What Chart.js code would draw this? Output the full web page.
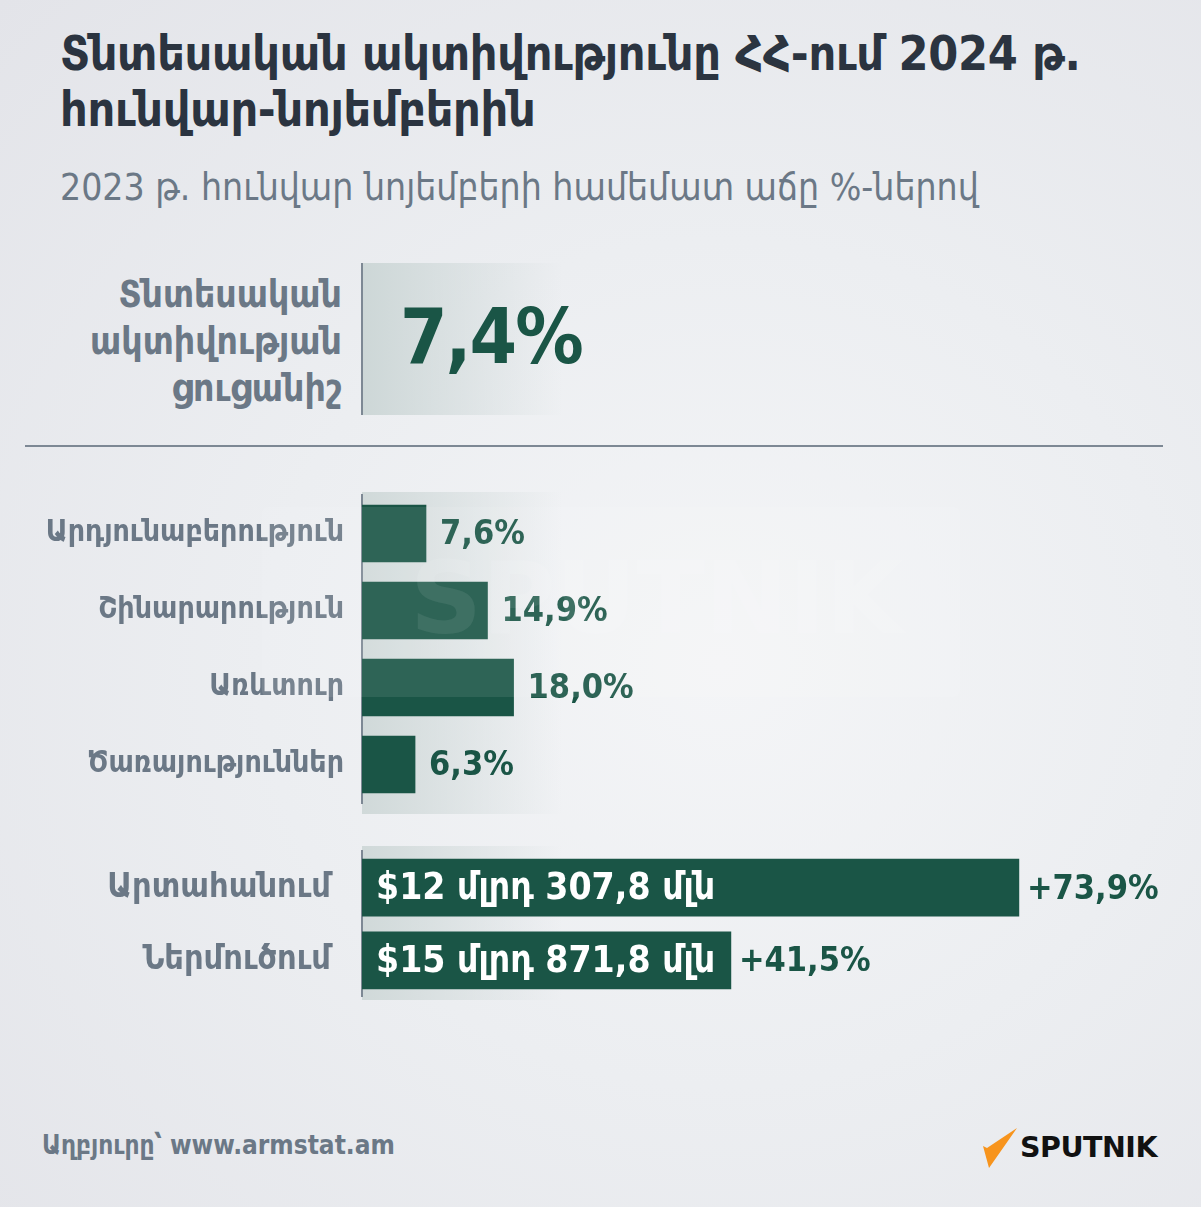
<!DOCTYPE html>
<html lang="hy">
<head>
<meta charset="UTF-8">
<title>Տնտեսական ակտիվությունը ՀՀ-ում 2024 թ.</title>
<script src="https://cdn.jsdelivr.net/npm/chart.js"></script>
<style>
  html, body { margin: 0; padding: 0; }
  body {
    width: 1201px; height: 1207px; position: relative; overflow: hidden;
    font-family: "DejaVu Sans Condensed", "DejaVu Sans", sans-serif;
    background: radial-gradient(ellipse at 60% 55%, #f4f5f7 0%, #eceef1 45%, #e3e4e9 100%);
  }
  .abs { position: absolute; }
  h1 { position: absolute; left: 60px; top: 25px; margin: 0; font-size: 48px; line-height: 56px; color: #2b3440; font-weight: bold; letter-spacing: -0.3px; }
  .sub { left: 60px; top: 166px; font-size: 37px; color: #6b7886; }
  .kpi-label { right: 859px; top: 271px; text-align: right; font-size: 37px; line-height: 47px; font-weight: bold; color: #6b7886; }
  .kpi-box { left: 361px; top: 263px; width: 200px; height: 152px; border-left: 2px solid #7d8894;
    background: linear-gradient(to right, #cdd7d7, rgba(220,226,226,0)); }
  .kpi-val { left: 400px; top: 292px; font-size: 76px; font-weight: bold; color: #1a5546; letter-spacing: -2px; }
  .rule { left: 25px; top: 445px; width: 1138px; height: 2px; background: #7d8894; }
  .band { background: linear-gradient(to right, #d0d9d9, rgba(225,230,230,0)); width: 200px; }
  .wm { left: 262px; top: 507px; width: 698px; height: 190px; border-radius: 6px; background: rgba(255,255,255,0.09);
    pointer-events: none; overflow: hidden; }
  .wm span { position: absolute; left: 148px; top: 42px; line-height: 1; font-family: "DejaVu Sans"; font-weight: bold; font-size: 100px; color: rgba(255,255,255,0.08); }
  .src { left: 42px; top: 1130px; font-size: 26px; font-weight: bold; color: #6b7886; }
  .logo { left: 983px; top: 1128px; }
  .logo b { position: absolute; left: 37px; top: 3px; font-family: "DejaVu Sans"; font-size: 28.5px; color: #111; letter-spacing: -0.5px; }
</style>
</head>
<body>
<h1>Տնտեսական ակտիվությունը ՀՀ-ում 2024 թ.<br>հունվար-նոյեմբերին</h1>
<div class="abs sub">2023 թ. հունվար նոյեմբերի համեմատ աճը %-ներով</div>

<div class="abs kpi-label">Տնտեսական<br>ակտիվության<br>ցուցանիշ</div>
<div class="abs kpi-box"></div>
<div class="abs kpi-val" id="kpi"></div>
<div class="abs rule"></div>

<div class="abs band" style="left:362px; top:492px; height:322px;"></div>
<div class="abs band" style="left:362px; top:846px; height:154px;"></div>

<canvas id="sectors" class="abs" style="left:0; top:467px;" width="1201" height="364"></canvas>
<canvas id="trade" class="abs" style="left:0; top:808px;" width="1201" height="232"></canvas>

<div class="abs wm"><span>SPUTNIK</span></div>

<div class="abs src">Աղբյուրը՝ www.armstat.am</div>
<div class="abs logo">
  <svg width="36" height="40" viewBox="0 0 36 40"><polygon points="34,0 4,20 0,18 6,40" fill="#f7941d"/></svg>
  <b>SPUTNIK</b>
</div>

<script>
  const activityIndex = 7.4;
  const sectorLabels = ['Արդյունաբերություն', 'Շինարարություն', 'Առևտուր', 'Ծառայություններ'];
  const sectorGrowth = [7.6, 14.9, 18.0, 6.3];
  const tradeLabels = ['Արտահանում', 'Ներմուծում'];
  const tradeGrowth = [73.9, 41.5];
  const tradeAmounts = ['$12 մլրդ 307,8 մլն', '$15 մլրդ 871,8 մլն'];

  const fmt = v => v.toFixed(1).replace('.', ',') + '%';
  document.getElementById('kpi').textContent = fmt(activityIndex);

  const FONT = '"DejaVu Sans Condensed", "DejaVu Sans", sans-serif';
  const GREEN = '#1a5546';

  // draws value text next to (and optionally inside) each bar
  const valueLabels = {
    id: 'valueLabels',
    afterDatasetsDraw(chart, args, opts) {
      const ctx = chart.ctx;
      const meta = chart.getDatasetMeta(0);
      const vals = chart.data.datasets[0].data;
      ctx.save();
      ctx.textBaseline = 'middle';
      ctx.textAlign = 'left';
      meta.data.forEach((bar, i) => {
        if (opts.inside) {
          ctx.font = 'bold 37px ' + FONT;
          ctx.fillStyle = '#ffffff';
          ctx.fillText(opts.inside[i], bar.base + 14, bar.y + 2);
        }
        ctx.font = opts.font;
        ctx.fillStyle = GREEN;
        ctx.fillText(opts.prefix + fmt(vals[i]), bar.x + opts.gap, bar.y + 2);
      });
      ctx.restore();
    }
  };

  function yAxis(size, pad) {
    return {
      afterFit: s => { s.width = 362; },
      grid: { display: false },
      border: { display: true, color: '#7d8894', width: 2 },
      ticks: { padding: pad, color: '#6b7886', font: { family: FONT, size: size, weight: 'bold' } }
    };
  }

  new Chart(document.getElementById('sectors'), {
    type: 'bar',
    data: {
      labels: sectorLabels,
      datasets: [{ data: sectorGrowth, backgroundColor: GREEN, barThickness: 57 }]
    },
    options: {
      indexAxis: 'y',
      responsive: false,
      animation: false,
      layout: { padding: { top: 0, bottom: 0, right: 39, left: 0 } },
      scales: {
        x: { display: false, min: 0, max: 95 },
        y: yAxis(30, 10)
      },
      plugins: {
        legend: { display: false },
        tooltip: { enabled: false },
        valueLabels: { font: 'bold 34px ' + FONT, gap: 14, prefix: '' }
      }
    },
    plugins: [valueLabels]
  });

  new Chart(document.getElementById('trade'), {
    type: 'bar',
    data: {
      labels: tradeLabels,
      datasets: [{ data: tradeGrowth, backgroundColor: GREEN, barThickness: 57 }]
    },
    options: {
      indexAxis: 'y',
      responsive: false,
      animation: false,
      layout: { padding: { top: 0, bottom: 0, right: 39, left: 0 } },
      scales: {
        x: { display: false, min: 0, max: 90 },
        y: yAxis(34, 23)
      },
      plugins: {
        legend: { display: false },
        tooltip: { enabled: false },
        valueLabels: { font: '600 34px ' + FONT, gap: 8, prefix: '+', inside: tradeAmounts }
      }
    },
    plugins: [valueLabels]
  });
</script>
</body>
</html>
